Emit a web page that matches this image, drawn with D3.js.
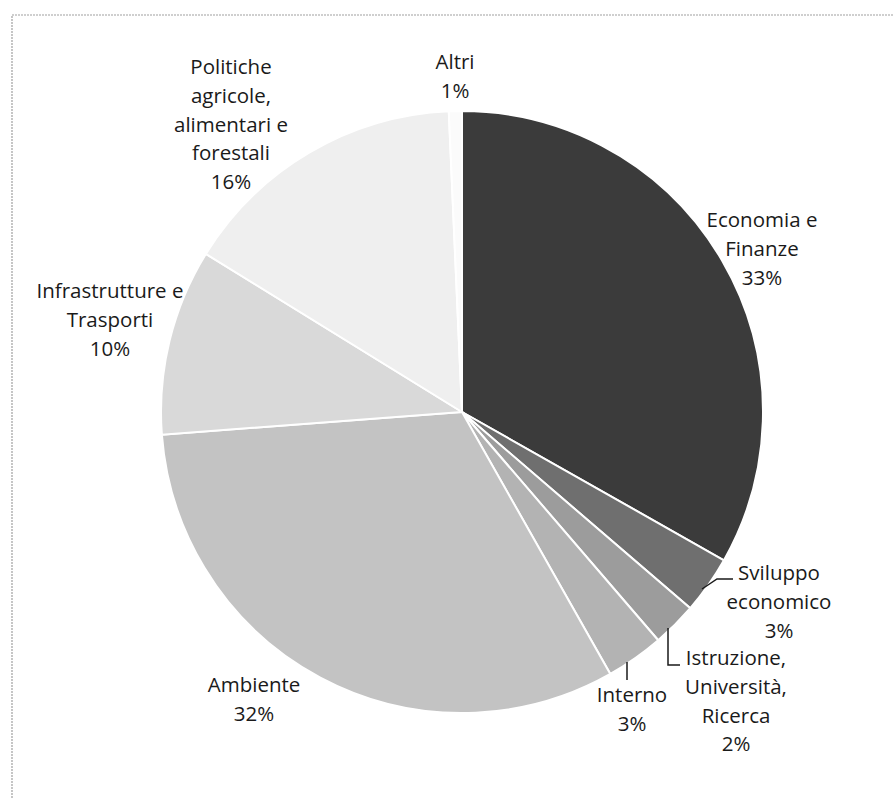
<!DOCTYPE html>
<html><head><meta charset="utf-8">
<script src="https://cdn.jsdelivr.net/npm/d3@7"></script>
<style>body{margin:0;background:#fff}svg{display:block}</style>
</head><body>
<script>
const categories = ["Economia e Finanze","Sviluppo economico","Istruzione, Università, Ricerca","Interno","Ambiente","Infrastrutture e Trasporti","Politiche agricole, alimentari e forestali","Altri"];
const labelLines = [["Economia e","Finanze"],["Sviluppo","economico"],["Istruzione,","Università,","Ricerca"],["Interno"],["Ambiente"],["Infrastrutture e","Trasporti"],["Politiche","agricole,","alimentari e","forestali"],["Altri"]];
const values = [33.2, 3.1, 2.4, 3.1, 32.0, 10.0, 15.5, 0.7];
const colors = ["#3b3b3b","#6f6f6f","#9c9c9c","#b3b3b3","#c3c3c3","#d9d9d9","#efefef","#fbfbfb"];

const W = 893, H = 799;
const cx = 462, cy = 412, R = 301;
const svg = d3.select("body").append("svg").attr("width", W).attr("height", H);

// dotted frame
svg.append("rect").attr("x", 12).attr("y", 15).attr("width", W).attr("height", H)
  .attr("fill", "none").attr("stroke", "#a0a0a0").attr("stroke-width", 1.2).attr("stroke-dasharray", "2,1");

const pie = d3.pie().sort(null).value(d => d)(values);
const arc = d3.arc().innerRadius(0).outerRadius(R);
const g = svg.append("g").attr("transform", `translate(${cx},${cy})`);
g.selectAll("path").data(pie).join("path")
  .attr("d", arc).attr("fill", (d, i) => colors[i])
  .attr("stroke", "#fff").attr("stroke-width", 2);

// label anchors (center x, first baseline), placed outside the pie as in the original
const labelPos = [[762, 227],[779, 580],[736, 665],[632, 702],[254, 692],[110, 298],[231, 74],[455, 69]];
const lineH = 28.8;
const fmt = v => Math.round(v) + "%";
const lg = svg.append("g").attr("font-family", "'Open Sans', sans-serif").attr("font-size", 20.5).attr("fill", "#1a1a1a").attr("text-anchor", "middle");
labelLines.forEach((lines, i) => {
  const t = lg.append("text").attr("x", labelPos[i][0]).attr("y", labelPos[i][1]);
  lines.concat([fmt(values[i])]).forEach((s, k) => {
    t.append("tspan").attr("x", labelPos[i][0]).attr("y", labelPos[i][1] + k * lineH).text(s);
  });
});

// leader lines
const leaders = [
  [[702, 589],[717, 579],[733, 579]],
  [[668, 628],[668, 665],[680, 665]],
  [[627, 662],[627, 680]]
];
svg.append("g").selectAll("path").data(leaders).join("path")
  .attr("d", d3.line()).attr("fill", "none").attr("stroke", "#1a1a1a").attr("stroke-width", 1.5);
</script>
</body></html>
